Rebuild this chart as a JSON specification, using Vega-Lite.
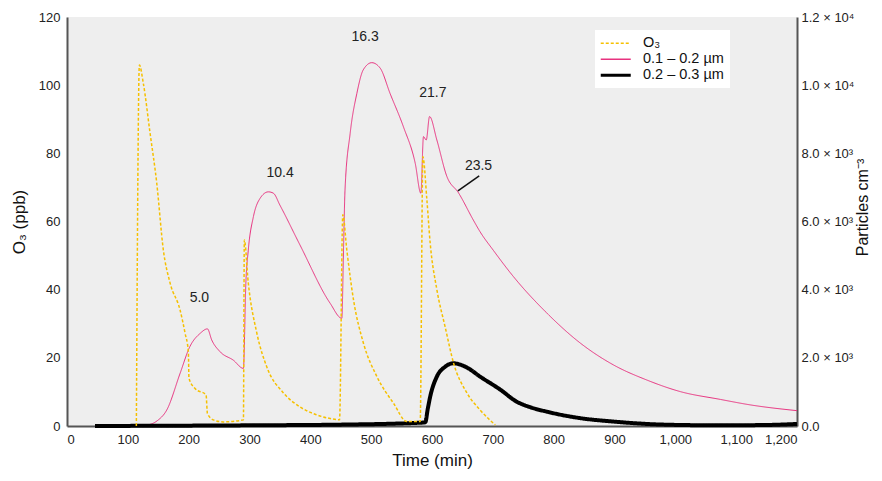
{
  "$schema": "https://vega.github.io/schema/vega-lite/v6.json",
  "width": 730,
  "height": 409,
  "autosize": {"type": "none"},
  "padding": {"left": 67, "top": 17, "right": 85, "bottom": 55},
  "background": "white",
  "config": {
    "view": {"fill": "#eeeeee", "stroke": null},
    "font": "Liberation Sans",
    "axis": {
      "domainColor": "#555555",
      "domainWidth": 2,
      "ticks": false,
      "grid": false,
      "labelColor": "#222222",
      "labelFontSize": 13,
      "labelFont": "Liberation Sans",
      "titleFont": "Liberation Sans",
      "titleFontSize": 17,
      "titleFontWeight": "normal",
      "titleColor": "#111111"
    },
    "legend": {"labelFont": "Liberation Sans"}
  },
  "datasets": {
    "series": [
      {"t": 100, "v": 0, "s": "0.1 – 0.2 µm"},
      {"t": 131, "v": 30, "s": "0.1 – 0.2 µm"},
      {"t": 148, "v": 150, "s": "0.1 – 0.2 µm"},
      {"t": 164, "v": 470, "s": "0.1 – 0.2 µm"},
      {"t": 186, "v": 1550, "s": "0.1 – 0.2 µm"},
      {"t": 202, "v": 2330, "s": "0.1 – 0.2 µm"},
      {"t": 219, "v": 2720, "s": "0.1 – 0.2 µm"},
      {"t": 230.8, "v": 2850, "s": "0.1 – 0.2 µm"},
      {"t": 238, "v": 2520, "s": "0.1 – 0.2 µm"},
      {"t": 251.6, "v": 2180, "s": "0.1 – 0.2 µm"},
      {"t": 273.5, "v": 1930, "s": "0.1 – 0.2 µm"},
      {"t": 290, "v": 1690, "s": "0.1 – 0.2 µm"},
      {"t": 294, "v": 4190, "s": "0.1 – 0.2 µm"},
      {"t": 298, "v": 5160, "s": "0.1 – 0.2 µm"},
      {"t": 306.4, "v": 6140, "s": "0.1 – 0.2 µm"},
      {"t": 317.4, "v": 6680, "s": "0.1 – 0.2 µm"},
      {"t": 331, "v": 6870, "s": "0.1 – 0.2 µm"},
      {"t": 339.3, "v": 6830, "s": "0.1 – 0.2 µm"},
      {"t": 350, "v": 6480, "s": "0.1 – 0.2 µm"},
      {"t": 383, "v": 5310, "s": "0.1 – 0.2 µm"},
      {"t": 432.6, "v": 3600, "s": "0.1 – 0.2 µm"},
      {"t": 451.8, "v": 3160, "s": "0.1 – 0.2 µm"},
      {"t": 454.5, "v": 5160, "s": "0.1 – 0.2 µm"},
      {"t": 457, "v": 6920, "s": "0.1 – 0.2 µm"},
      {"t": 465.5, "v": 8590, "s": "0.1 – 0.2 µm"},
      {"t": 476.5, "v": 9760, "s": "0.1 – 0.2 µm"},
      {"t": 487, "v": 10450, "s": "0.1 – 0.2 µm"},
      {"t": 501, "v": 10660, "s": "0.1 – 0.2 µm"},
      {"t": 514.8, "v": 10500, "s": "0.1 – 0.2 µm"},
      {"t": 531, "v": 9760, "s": "0.1 – 0.2 µm"},
      {"t": 553, "v": 8780, "s": "0.1 – 0.2 µm"},
      {"t": 572.4, "v": 7710, "s": "0.1 – 0.2 µm"},
      {"t": 581.7, "v": 6830, "s": "0.1 – 0.2 µm"},
      {"t": 586, "v": 8490, "s": "0.1 – 0.2 µm"},
      {"t": 590.5, "v": 8390, "s": "0.1 – 0.2 µm"},
      {"t": 596, "v": 9080, "s": "0.1 – 0.2 µm"},
      {"t": 608, "v": 8390, "s": "0.1 – 0.2 µm"},
      {"t": 624.5, "v": 7320, "s": "0.1 – 0.2 µm"},
      {"t": 643.6, "v": 6840, "s": "0.1 – 0.2 µm"},
      {"t": 668, "v": 6040, "s": "0.1 – 0.2 µm"},
      {"t": 679, "v": 5700, "s": "0.1 – 0.2 µm"},
      {"t": 701, "v": 5150, "s": "0.1 – 0.2 µm"},
      {"t": 734, "v": 4380, "s": "0.1 – 0.2 µm"},
      {"t": 789, "v": 3310, "s": "0.1 – 0.2 µm"},
      {"t": 844, "v": 2430, "s": "0.1 – 0.2 µm"},
      {"t": 898.5, "v": 1790, "s": "0.1 – 0.2 µm"},
      {"t": 953, "v": 1350, "s": "0.1 – 0.2 µm"},
      {"t": 1008, "v": 1010, "s": "0.1 – 0.2 µm"},
      {"t": 1074, "v": 780, "s": "0.1 – 0.2 µm"},
      {"t": 1123, "v": 620, "s": "0.1 – 0.2 µm"},
      {"t": 1200, "v": 450, "s": "0.1 – 0.2 µm"},
      {"t": 46, "v": 0, "s": "0.2 – 0.3 µm"},
      {"t": 300, "v": 20, "s": "0.2 – 0.3 µm"},
      {"t": 450, "v": 40, "s": "0.2 – 0.3 µm"},
      {"t": 585, "v": 100, "s": "0.2 – 0.3 µm"},
      {"t": 589, "v": 110, "s": "0.2 – 0.3 µm"},
      {"t": 593, "v": 500, "s": "0.2 – 0.3 µm"},
      {"t": 597, "v": 860, "s": "0.2 – 0.3 µm"},
      {"t": 608, "v": 1450, "s": "0.2 – 0.3 µm"},
      {"t": 621.7, "v": 1740, "s": "0.2 – 0.3 µm"},
      {"t": 635, "v": 1840, "s": "0.2 – 0.3 µm"},
      {"t": 657, "v": 1720, "s": "0.2 – 0.3 µm"},
      {"t": 679, "v": 1450, "s": "0.2 – 0.3 µm"},
      {"t": 712, "v": 1070, "s": "0.2 – 0.3 µm"},
      {"t": 739.6, "v": 710, "s": "0.2 – 0.3 µm"},
      {"t": 760, "v": 560, "s": "0.2 – 0.3 µm"},
      {"t": 789, "v": 420, "s": "0.2 – 0.3 µm"},
      {"t": 844, "v": 230, "s": "0.2 – 0.3 µm"},
      {"t": 898.5, "v": 130, "s": "0.2 – 0.3 µm"},
      {"t": 953, "v": 60, "s": "0.2 – 0.3 µm"},
      {"t": 1008, "v": 30, "s": "0.2 – 0.3 µm"},
      {"t": 1074, "v": 20, "s": "0.2 – 0.3 µm"},
      {"t": 1150, "v": 30, "s": "0.2 – 0.3 µm"},
      {"t": 1200, "v": 60, "s": "0.2 – 0.3 µm"}
    ],
    "ozone": [
      {"t": 114, "v": 0, "s": "O3"},
      {"t": 119, "v": 105.9, "s": "O3"},
      {"t": 125.5, "v": 100.5, "s": "O3"},
      {"t": 136.5, "v": 86, "s": "O3"},
      {"t": 147.5, "v": 71.3, "s": "O3"},
      {"t": 158.4, "v": 51.6, "s": "O3"},
      {"t": 169.4, "v": 42, "s": "O3"},
      {"t": 185.9, "v": 34, "s": "O3"},
      {"t": 194, "v": 27.3, "s": "O3"},
      {"t": 199.5, "v": 21.8, "s": "O3"},
      {"t": 200.5, "v": 14, "s": "O3"},
      {"t": 210.5, "v": 11, "s": "O3"},
      {"t": 228.6, "v": 9.1, "s": "O3"},
      {"t": 230.8, "v": 3.7, "s": "O3"},
      {"t": 240.6, "v": 1.8, "s": "O3"},
      {"t": 257, "v": 1.2, "s": "O3"},
      {"t": 290, "v": 1.8, "s": "O3"},
      {"t": 291.5, "v": 54.6, "s": "O3"},
      {"t": 298, "v": 42, "s": "O3"},
      {"t": 312, "v": 27.3, "s": "O3"},
      {"t": 328.5, "v": 17.3, "s": "O3"},
      {"t": 355.8, "v": 9.7, "s": "O3"},
      {"t": 383, "v": 5.6, "s": "O3"},
      {"t": 410, "v": 3.3, "s": "O3"},
      {"t": 432.6, "v": 2.2, "s": "O3"},
      {"t": 448, "v": 1.8, "s": "O3"},
      {"t": 453.4, "v": 62, "s": "O3"},
      {"t": 460, "v": 51.6, "s": "O3"},
      {"t": 471, "v": 37, "s": "O3"},
      {"t": 487.3, "v": 24.3, "s": "O3"},
      {"t": 509.4, "v": 14.5, "s": "O3"},
      {"t": 537, "v": 6.6, "s": "O3"},
      {"t": 558.7, "v": 1.3, "s": "O3"},
      {"t": 580.6, "v": 1.3, "s": "O3"},
      {"t": 585, "v": 79, "s": "O3"},
      {"t": 591.6, "v": 66.3, "s": "O3"},
      {"t": 597, "v": 53.7, "s": "O3"},
      {"t": 608, "v": 40, "s": "O3"},
      {"t": 621.7, "v": 29, "s": "O3"},
      {"t": 635.4, "v": 18.5, "s": "O3"},
      {"t": 657.4, "v": 9.7, "s": "O3"},
      {"t": 679, "v": 4.7, "s": "O3"},
      {"t": 704, "v": 0.3, "s": "O3"}
    ],
    "notes": [
      {"label": "5.0", "t": 217.6, "v": 3750},
      {"label": "10.4", "t": 350.3, "v": 7430},
      {"label": "16.3", "t": 490, "v": 11410},
      {"label": "21.7", "t": 601.5, "v": 9780},
      {"label": "23.5", "t": 676.5, "v": 7630}
    ],
    "leader": [
      {"t": 677.6, "v": 7340, "t2": 642.6, "v2": 6900}
    ]
  },
  "layer": [
    {
      "layer": [
        {
          "data": {"name": "series"},
          "mark": {"type": "line", "interpolate": "monotone"},
          "encoding": {
            "x": {"field": "t", "type": "quantitative"},
            "y": {"field": "v", "type": "quantitative"},
            "color": {"field": "s", "type": "nominal"},
            "strokeDash": {"field": "s", "type": "nominal", "legend": null},
            "strokeWidth": {"field": "s", "type": "nominal", "legend": null}
          }
        },
        {
          "data": {"name": "notes"},
          "mark": {"type": "text", "fontSize": 14, "color": "#222222", "font": "Liberation Sans"},
          "encoding": {
            "x": {"field": "t", "type": "quantitative"},
            "y": {"field": "v", "type": "quantitative"},
            "text": {"field": "label"}
          }
        },
        {
          "data": {"name": "leader"},
          "mark": {"type": "rule", "color": "#111111", "strokeWidth": 1.5},
          "encoding": {
            "x": {"field": "t", "type": "quantitative"},
            "x2": {"field": "t2"},
            "y": {"field": "v", "type": "quantitative"},
            "y2": {"field": "v2"}
          }
        }
      ],
      "encoding": {
        "y": {
          "type": "quantitative",
          "scale": {"domain": [0, 12000], "nice": false},
          "axis": {
            "orient": "right",
            "title": "Particles cm⁻³",
            "titleAngle": 270,
            "titleFontSize": 16,
            "titleX": 65,
            "titleY": 190,
            "titleAlign": "center",
            "titleBaseline": "middle",
            "values": [0, 2000, 4000, 6000, 8000, 10000, 12000],
            "labelExpr": "datum.value == 0 ? '0.0' : (datum.value < 10000 ? format(datum.value / 1000, '.1f') + ' × 10³' : format(datum.value / 10000, '.1f') + ' × 10⁴')",
            "labelPadding": 4
          }
        }
      }
    },
    {
      "data": {"name": "ozone"},
      "mark": {"type": "line", "interpolate": "monotone"},
      "encoding": {
        "x": {
          "field": "t",
          "type": "quantitative",
          "scale": {"domain": [0, 1200], "nice": false},
          "axis": {
            "title": "Time (min)",
            "values": [0, 100, 200, 300, 400, 500, 600, 700, 800, 900, 1000, 1100, 1200],
            "format": ",d",
            "labelPadding": 7,
            "titlePadding": 6
          }
        },
        "y": {
          "field": "v",
          "type": "quantitative",
          "scale": {"domain": [0, 120], "nice": false},
          "axis": {
            "orient": "left",
            "title": "O₃ (ppb)",
            "values": [0, 20, 40, 60, 80, 100, 120],
            "labelPadding": 7,
            "titlePadding": 10
          }
        },
        "color": {
          "field": "s",
          "type": "nominal",
          "scale": {"domain": ["O3", "0.1 – 0.2 µm", "0.2 – 0.3 µm"], "range": ["#f5c000", "#e8327f", "#000000"]},
          "legend": {
            "title": null,
            "orient": "none",
            "legendX": 528,
            "legendY": 13,
            "fillColor": "white",
            "padding": 6,
            "symbolType": "stroke",
            "symbolSize": 900,
            "symbolOffset": 7.5,
            "labelOffset": 20,
            "labelFontSize": 14.5,
            "labelColor": "#111111",
            "rowPadding": 1,
            "labelExpr": "datum.label == 'O3' ? 'O₃' : datum.label",
            "encode": {
              "symbols": {
                "update": {
                  "strokeDash": {"signal": "datum.value == 'O3' ? [3, 2] : [1, 0]"},
                  "strokeWidth": {"signal": "datum.value == '0.2 – 0.3 µm' ? 3 : 1.5"}
                }
              }
            }
          }
        },
        "strokeDash": {
          "field": "s",
          "type": "nominal",
          "scale": {"domain": ["O3", "0.1 – 0.2 µm", "0.2 – 0.3 µm"], "range": [[3, 2], [1, 0], [1, 0]]},
          "legend": null
        },
        "strokeWidth": {
          "field": "s",
          "type": "nominal",
          "scale": {"type": "ordinal", "domain": ["O3", "0.1 – 0.2 µm", "0.2 – 0.3 µm"], "range": [1.5, 1.5, 3]},
          "legend": null
        }
      }
    }
  ],
  "resolve": {"scale": {"y": "independent"}}
}
